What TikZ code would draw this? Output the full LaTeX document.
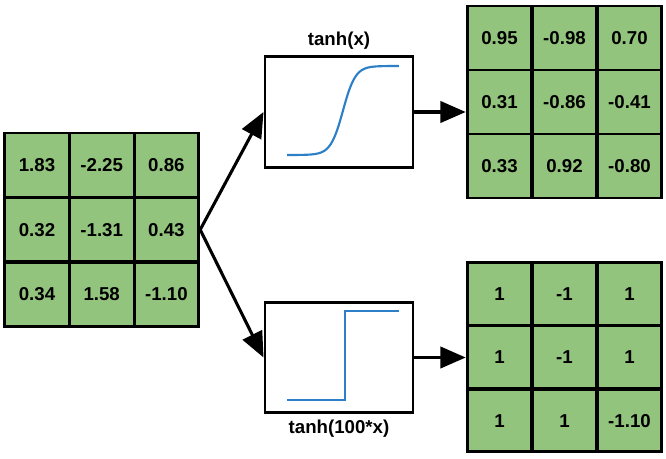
\documentclass[tikz,border=0pt]{standalone}
\usepackage{fontspec}
\setmainfont{Liberation Sans}
\usetikzlibrary{arrows.meta}
\definecolor{cellgreen}{RGB}{147,196,125}
\definecolor{curveblue}{RGB}{45,128,199}
\tikzset{
	cell/.style={draw, line width=2.2pt, fill=cellgreen, minimum width=48.5pt, minimum height=48pt, inner sep=0pt},
	fbox/.style={draw, line width=2.2pt, fill=white, minimum width=111pt, minimum height=83pt, inner sep=0pt},
	curve/.style={curveblue, line width=1.6pt},
	link/.style={line width=2.3pt, -{Triangle[length=19pt,width=16pt]}}
}
\begin{document}
\begin{tikzpicture}[x=0.75pt, y=-0.75pt, font=\fontsize{14}{16}\selectfont\bfseries]
	\useasboundingbox (0,0) rectangle (666,459);
	% bemenet
	\foreach \row [count=\r] in {{1.83,-2.25,0.86},{0.32,-1.31,0.43},{0.34,1.58,-1.10}}
		\foreach \v [count=\c] in \row
			\node[cell] (in-\r-\c) at ({37+64.7*(\c-1)}, {165+64.7*(\r-1)}) {\v};
	% tanh(x) kimenet
	\foreach \row [count=\r] in {{0.95,-0.98,0.70},{0.31,-0.86,-0.41},{0.33,0.92,-0.80}}
		\foreach \v [count=\c] in \row
			\node[cell] (top-\r-\c) at ({499.5+65*(\c-1)}, {38+64*(\r-1)}) {\v};
	% tanh(100*x) kimenet
	\foreach \row [count=\r] in {{1,-1,1},{1,-1,1},{1,1,-1.10}}
		\foreach \v [count=\c] in \row
			\node[cell, minimum height=47pt] (bot-\r-\c) at ({499.5+65*(\c-1)}, {294+63.3*(\r-1)}) {\v};
	% függvény dobozok
	\node[fbox] (topbox) at (339,112) {};
	\node[above=1pt] (toplabel) at (topbox.north) {tanh(x)};
	\node[fbox] (botbox) at (339,357.5) {};
	\node[below=1pt] (botlabel) at (botbox.south) {tanh(100*x)};
	% görbék
	\begin{scope}[shift={(topbox.center)}]
		\draw[curve] plot[domain=-1:1, samples=80, smooth] ({4+56*\x}, {-1.5-44.5*tanh(4.5*\x)});
	\end{scope}
	\begin{scope}[shift={(botbox.center)}]
		\draw[curve] (-52,42.5) -- (6,42.5) -- (6,-46.5) -- (60,-46.5);
	\end{scope}
	% nyilak
	\draw[link] (in-2-3.east) -- (topbox.west);
	\draw[link] (in-2-3.east) -- (botbox.west);
	\draw[link] (topbox.east) -- (topbox.east -| top-2-1.west);
	\draw[link] (botbox.east) -- (botbox.east -| bot-2-1.west);
\end{tikzpicture}
\end{document}
